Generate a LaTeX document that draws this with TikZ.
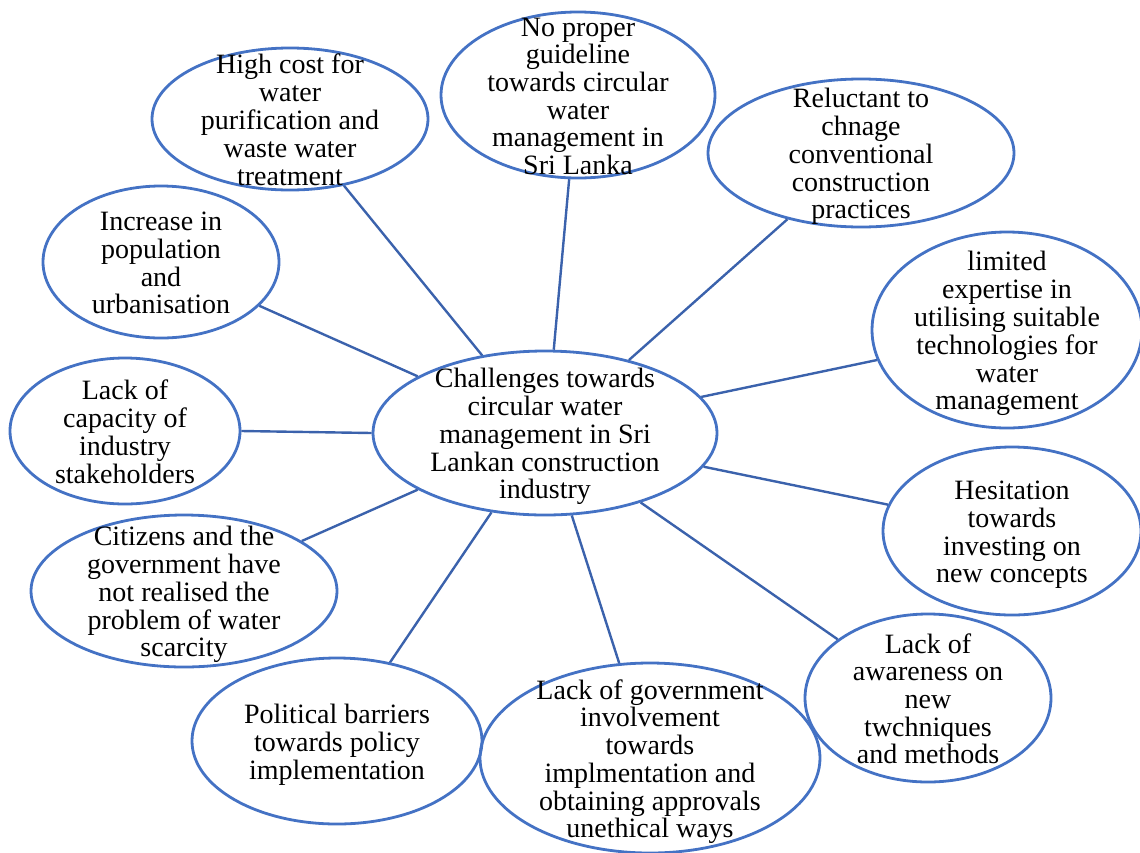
\documentclass[tikz,border=0pt]{standalone}
\usepackage{fontspec}
\setmainfont{Liberation Serif}
\usetikzlibrary{shapes.geometric}
\definecolor{ovalblue}{HTML}{4472C4}
\definecolor{linkblue}{HTML}{3B62AC}
% text of an oval, kept out of the size of the shape
\newcommand{\ovaltext}[1]{\makebox[0pt]{\raisebox{-11pt}[0pt][0pt]{\begin{tabular}{@{}c@{}}#1\end{tabular}}}}
\begin{document}
\begin{tikzpicture}[x=1pt, y=-1pt]
  \tikzstyle{every node}=[font=\fontsize{28}{27.7}\selectfont]
  \tikzstyle{oval}=[ellipse, draw=ovalblue, line width=2.8pt, inner sep=0pt]
  \tikzstyle{link}=[draw=linkblue, line width=2.4pt]
  \useasboundingbox (0,0) rectangle (1140,852);
  \node[oval, minimum width=344, minimum height=164] (core) at (545,433)
       {\ovaltext{Challenges towards\\circular water\\management in Sri\\Lankan construction\\industry}};
  \node[oval, minimum width=276, minimum height=142] (hcost) at (290,119)
       {\ovaltext{High cost for\\water\\purification and\\waste water\\treatment}};
  \node[oval, minimum width=274, minimum height=166] (guide) at (578,95)
       {\ovaltext{No proper\\guideline\\towards circular\\water\\management in\\Sri Lanka}};
  \node[oval, minimum width=306, minimum height=148] (reluct) at (861,153)
       {\ovaltext{Reluctant to\\chnage\\conventional\\construction\\practices}};
  \node[oval, minimum width=270, minimum height=196] (expert) at (1007,330)
       {\ovaltext{limited\\expertise in\\utilising suitable\\technologies for\\water\\management}};
  \node[oval, minimum width=258, minimum height=168] (hesit) at (1012,531)
       {\ovaltext{Hesitation\\towards\\investing on\\new concepts}};
  \node[oval, minimum width=246, minimum height=168] (aware) at (928,698)
       {\ovaltext{Lack of\\awareness on\\new\\twchniques\\and methods}};
  \node[oval, minimum width=340, minimum height=190] (govt) at (650,758)
       {\ovaltext{Lack of government\\involvement\\towards\\implmentation and\\obtaining approvals\\unethical ways}};
  \node[oval, minimum width=290, minimum height=166] (polit) at (337,741)
       {\ovaltext{Political barriers\\towards policy\\implementation}};
  \node[oval, minimum width=306, minimum height=152] (citiz) at (184,591)
       {\ovaltext{Citizens and the\\government have\\not realised the\\problem of water\\scarcity}};
  \node[oval, minimum width=230, minimum height=146] (capac) at (125,431)
       {\ovaltext{Lack of\\capacity of\\industry\\stakeholders}};
  \node[oval, minimum width=236, minimum height=152] (popul) at (161,262)
       {\ovaltext{Increase in\\population\\and\\urbanisation}};
  % spokes
  \draw[link] (hcost.-51) -- (core.129);
  \draw[link] (guide.-96) -- (core.84);
  \draw[link] (reluct.222) -- (core.41);
  \draw[link] (expert.193) -- (core.13);
  \draw[link] (hesit.168) -- (core.-12);
  \draw[link] (aware.147) -- (core.-36);
  \draw[link] (govt.108) -- (core.-72);
  \draw[link] (polit.56) -- (core.236);
  \draw[link] (citiz.23) -- (core.204);
  \draw[link] (capac.0) -- (core.180);
  \draw[link] (popul.-24) -- (core.156);
\end{tikzpicture}
\end{document}
